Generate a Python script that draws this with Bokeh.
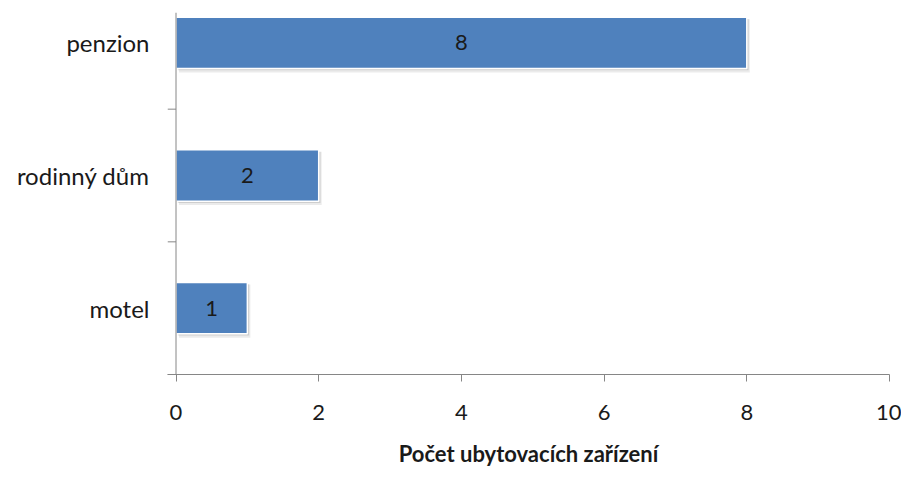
from bokeh.plotting import figure
from bokeh.models import Range1d, FixedTicker, Span, ColumnDataSource
from bokeh.core.properties import value
from bokeh.embed import file_html
from bokeh.resources import INLINE

categories = ["motel", "rodinný dům", "penzion"]
counts = [1, 2, 8]
x_ticks = [0, 2, 4, 6, 8, 10]
x_title = "Počet ubytovacích zařízení"

FONT = "Lato"
W, H = 901, 469
frame_left, frame_right = 167, 889   # figure px
frame_top, frame_bottom = 12, 379
zero_px = 175.5
px_per_x = (frame_right - zero_px) / 10
x_start = -(zero_px - frame_left) / px_per_x
px_per_y = 134.5
y_end = (frame_bottom - frame_top) / px_per_y

pos = [i + 0.5 for i in range(len(categories))]
bar_h = 52 / px_per_y

p = figure(width=W, height=H, output_backend="svg", toolbar_location=None,
           x_range=Range1d(x_start, 10), y_range=Range1d(0, y_end),
           min_border_left=frame_left, min_border_right=W - frame_right,
           min_border_top=frame_top, min_border_bottom=H - frame_bottom)
p.outline_line_color = None
p.xgrid.visible = False
p.ygrid.visible = False
p.background_fill_color = "white"
p.border_fill_color = "white"

src = ColumnDataSource(dict(y=pos, right=counts, mid=[c / 2 for c in counts],
                            lbl=[str(c) for c in counts]))

# soft shadow
dx = 3 / px_per_x
dy = 3 / px_per_y
sh = ColumnDataSource(dict(y=[v - dy for v in pos], right=[c + dx for c in counts]))
p.hbar(y="y", left=dx, right="right", height=bar_h + 2 / px_per_y, source=sh,
       fill_color="black", fill_alpha=0.08, line_color=None)
sh2 = ColumnDataSource(dict(y=[v - dy * 0.6 for v in pos], right=[c + dx * 0.6 for c in counts]))
p.hbar(y="y", left=dx * 0.6, right="right", height=bar_h, source=sh2,
       fill_color="black", fill_alpha=0.12, line_color=None)

p.hbar(y="y", left=0, right="right", height=bar_h, source=src,
       fill_color="#4F81BD", line_color="white", line_width=1.5)

p.text(x="mid", y="y", text="lbl", source=src, text_align="center",
       text_baseline="middle", text_font=value(FONT), text_font_size="22px",
       text_color="#1a1a1a")

# y axis line at x=0 and category boundary ticks
p.add_layout(Span(location=0, dimension="height", line_color="#868686", line_width=1))
bnd = list(range(len(categories)))
p.segment(x0=[x_start] * len(bnd), x1=[0] * len(bnd), y0=bnd, y1=bnd,
          line_color="#868686", line_width=1)

xa = p.xaxis[0]
xa.ticker = FixedTicker(ticks=x_ticks)
xa.axis_line_color = "#868686"
xa.major_tick_line_color = "#868686"
xa.major_tick_out = 7
xa.major_tick_in = 0
xa.minor_tick_line_color = None
xa.major_label_text_font = FONT
xa.major_label_text_font_size = "22px"
xa.major_label_text_color = "#1a1a1a"
xa.major_label_standoff = 23
xa.axis_label = x_title
xa.axis_label_text_font = FONT
xa.axis_label_text_font_size = "22px"
xa.axis_label_text_font_style = "bold"
xa.axis_label_text_color = "#1a1a1a"
xa.axis_label_standoff = 17

ya = p.yaxis[0]
ya.ticker = FixedTicker(ticks=pos)
ya.major_label_overrides = {v: c for v, c in zip(pos, categories)}
ya.axis_line_color = None
ya.major_tick_line_color = None
ya.minor_tick_line_color = None
ya.major_tick_out = 0
ya.major_tick_in = 0
ya.major_label_standoff = 18
ya.major_label_text_font = FONT
ya.major_label_text_font_size = "24px"
ya.major_label_text_color = "#1a1a1a"

open("out.html", "w").write(file_html(p, INLINE))
